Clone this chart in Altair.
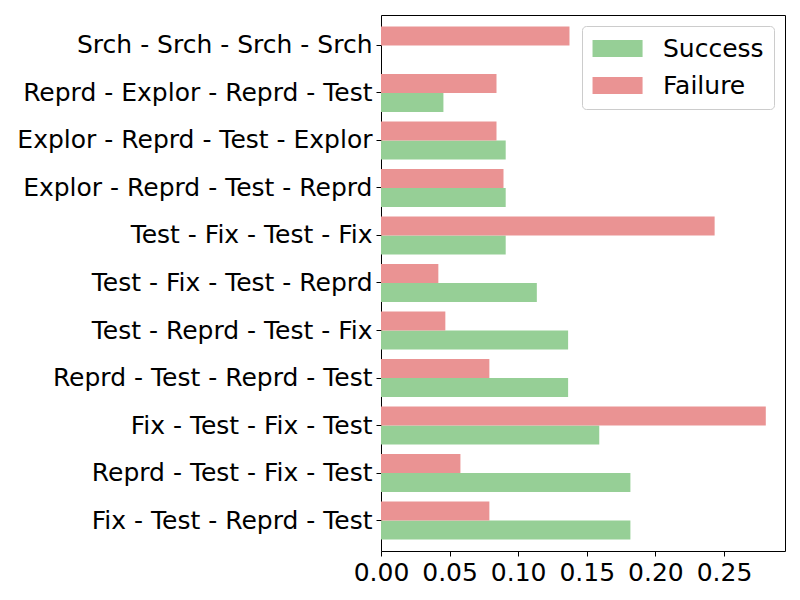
import altair as alt
import pandas as pd

categories = [
    "Srch - Srch - Srch - Srch",
    "Reprd - Explor - Reprd - Test",
    "Explor - Reprd - Test - Explor",
    "Explor - Reprd - Test - Reprd",
    "Test - Fix - Test - Fix",
    "Test - Fix - Test - Reprd",
    "Test - Reprd - Test - Fix",
    "Reprd - Test - Reprd - Test",
    "Fix - Test - Fix - Test",
    "Reprd - Test - Fix - Test",
    "Fix - Test - Reprd - Test",
]
success = [0.0, 0.0455, 0.0909, 0.0909, 0.0909, 0.1136, 0.1364, 0.1364, 0.1591, 0.1818, 0.1818]
failure = [0.1374, 0.0842, 0.0842, 0.0893, 0.2432, 0.0418, 0.0469, 0.0790, 0.2805, 0.0579, 0.0790]
series = ["Success", "Failure"]
colors = ["#96cf96", "#ea9393"]
x_ticks = [0.0, 0.05, 0.10, 0.15, 0.20, 0.25]

rows = []
for c, s, f in zip(categories, success, failure):
    rows.append({"pattern": c, "outcome": "Success", "value": s})
    rows.append({"pattern": c, "outcome": "Failure", "value": f})
df = pd.DataFrame(rows)

FONT = "DejaVu Sans"
FS = 25

chart = alt.Chart(df).mark_bar().encode(
    y=alt.Y(
        "pattern:N",
        sort=categories,
        title=None,
        scale=alt.Scale(paddingInner=0.2, paddingOuter=0.242),
        axis=alt.Axis(
            labelFont=FONT, labelFontSize=FS, labelColor="black",
            tickColor="black", tickSize=5, labelPadding=4,
            domain=False, grid=False, labelLimit=500,
        ),
    ),
    yOffset=alt.YOffset("outcome:N", sort=["Failure", "Success"]),
    x=alt.X(
        "value:Q",
        title=None,
        scale=alt.Scale(domain=[0, 0.2945], nice=False, zero=True),
        axis=alt.Axis(
            values=x_ticks, format=".2f",
            labelFont=FONT, labelFontSize=FS, labelColor="black",
            tickColor="black", tickSize=5, labelPadding=4,
            domain=False, grid=False, labelFlush=False,
        ),
    ),
    color=alt.Color(
        "outcome:N",
        scale=alt.Scale(domain=series, range=colors),
        legend=alt.Legend(
            title=None,
            orient="none",
            legendX=201,
            legendY=11,
            labelFont=FONT,
            labelFontSize=FS,
            labelColor="black",
            symbolType="M-1.33,-0.95H4.23V0.95H-1.33Z",
            symbolSize=324,
            symbolStrokeWidth=0,
            symbolOpacity=1,
            rowPadding=11,
            labelOffset=46,
            padding=10,
            strokeColor="#cccccc",
            fillColor="white",
            cornerRadius=4,
        ),
    ),
).properties(
    width=404,
    height=536,
    autosize=alt.AutoSizeParams(type="none"),
    padding={"left": 373, "top": 7, "right": 7, "bottom": 41},
).configure_view(
    stroke="black", strokeWidth=1
)

chart.save("out.html", embed_options={"renderer": "svg", "actions": False})
